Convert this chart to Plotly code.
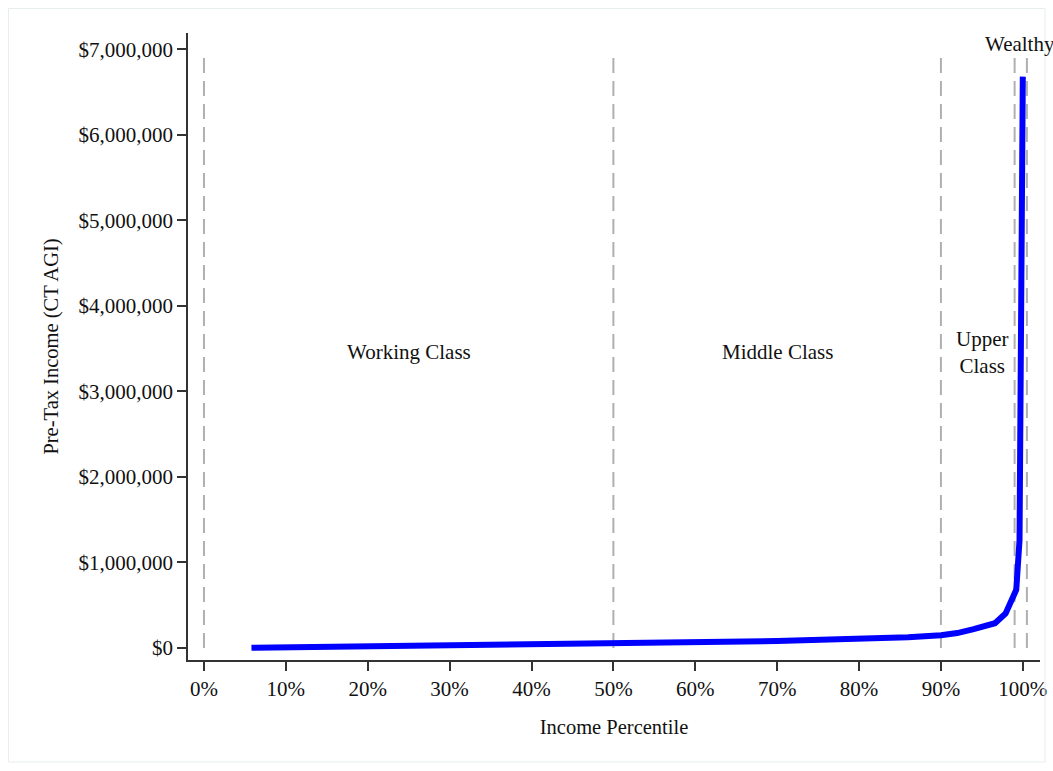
import plotly.graph_objects as go

percentile = [5.8, 10, 15, 20, 25, 30, 35, 40, 45, 50, 55, 60, 65, 66, 70, 74, 75,
              80, 86, 90, 92, 94, 96.6, 97.9, 99.2, 99.6, 100]
income = [2000, 6000, 11000, 16000, 21000, 26000, 31000, 37000, 43000, 49000,
          55000, 62000, 70000, 76000, 82000, 90000, 98000, 108000, 125000,
          150000, 175000, 220000, 290000, 405000, 680000, 1260000, 6680000]

boundaries = [0, 50, 90, 99, 100.5]
class_labels = ["Working Class", "Middle Class", "Upper<br>Class", "Wealthy"]
label_x = [25, 70, 95, 99.6]
label_y = [3460000, 3460000, 3460000, 7060000]

xticks = list(range(0, 101, 10))
xtick_text = [f"{v}%" for v in xticks]
yticks = list(range(0, 7000001, 1000000))
ytick_text = [f"${v:,}" for v in yticks]

FONT = "Liberation Serif, Times New Roman, serif"

fig = go.Figure()
fig.add_trace(go.Scatter(x=percentile, y=income, mode="lines",
                         line=dict(color="#0000FF", width=6), showlegend=False,
                         hoverinfo="x+y"))

for b in boundaries:
    fig.add_shape(type="line", x0=b, x1=b, y0=0, y1=6930000, xref="x", yref="y",
                  line=dict(color="#B0B0B0", width=2, dash="15px,8px"), layer="below")

for t, x, y in zip(class_labels, label_x, label_y):
    fig.add_annotation(x=x, y=y, text=t, showarrow=False, xref="x", yref="y",
                       font=dict(family=FONT, size=21, color="#111111"),
                       xanchor="center", yanchor="middle")

# page has no body margin; figure fills the window
L, T, PW, PH = 188, 33, 852, 627
W, H = 1053, 771
# light outer frame
fig.add_shape(type="rect", xref="paper", yref="paper",
              x0=(8.5 - L) / PW, x1=(1045 - L) / PW,
              y0=(T + PH - 762) / PH, y1=(T + PH - 8.5) / PH,
              line=dict(color="#E6EEF0", width=1), fillcolor="rgba(0,0,0,0)")

fig.update_layout(
    width=W, height=H,
    margin=dict(l=L, r=W - L - PW, t=T, b=H - T - PH, autoexpand=False),
    paper_bgcolor="white", plot_bgcolor="white",
    font=dict(family=FONT, size=20, color="#111111"),
    xaxis=dict(range=[-1.95, 102.1], tickvals=xticks, ticktext=xtick_text,
               automargin=False,
               showgrid=False, zeroline=False, showline=True, linecolor="#333333",
               linewidth=1.5, ticks="outside", ticklen=9, tickcolor="#333333",
               tickwidth=1.5, tickfont=dict(family=FONT, size=21),
               title=dict(text="Income Percentile", standoff=20,
                          font=dict(family=FONT, size=20.5))),
    yaxis=dict(range=[-140000, 7190000], tickvals=yticks, ticktext=ytick_text,
               automargin=False,
               showgrid=False, zeroline=False, showline=True, linecolor="#333333",
               linewidth=1.5, ticks="outside", ticklen=9, tickcolor="#333333",
               tickwidth=1.5, tickfont=dict(family=FONT, size=21),
               title=dict(text="Pre-Tax Income (CT AGI)", standoff=14,
                          font=dict(family=FONT, size=20.5))),
)

fig.write_html("out.html", config={"displayModeBar": False},
               post_script="document.body.style.margin='0';document.body.style.overflow='hidden';")
